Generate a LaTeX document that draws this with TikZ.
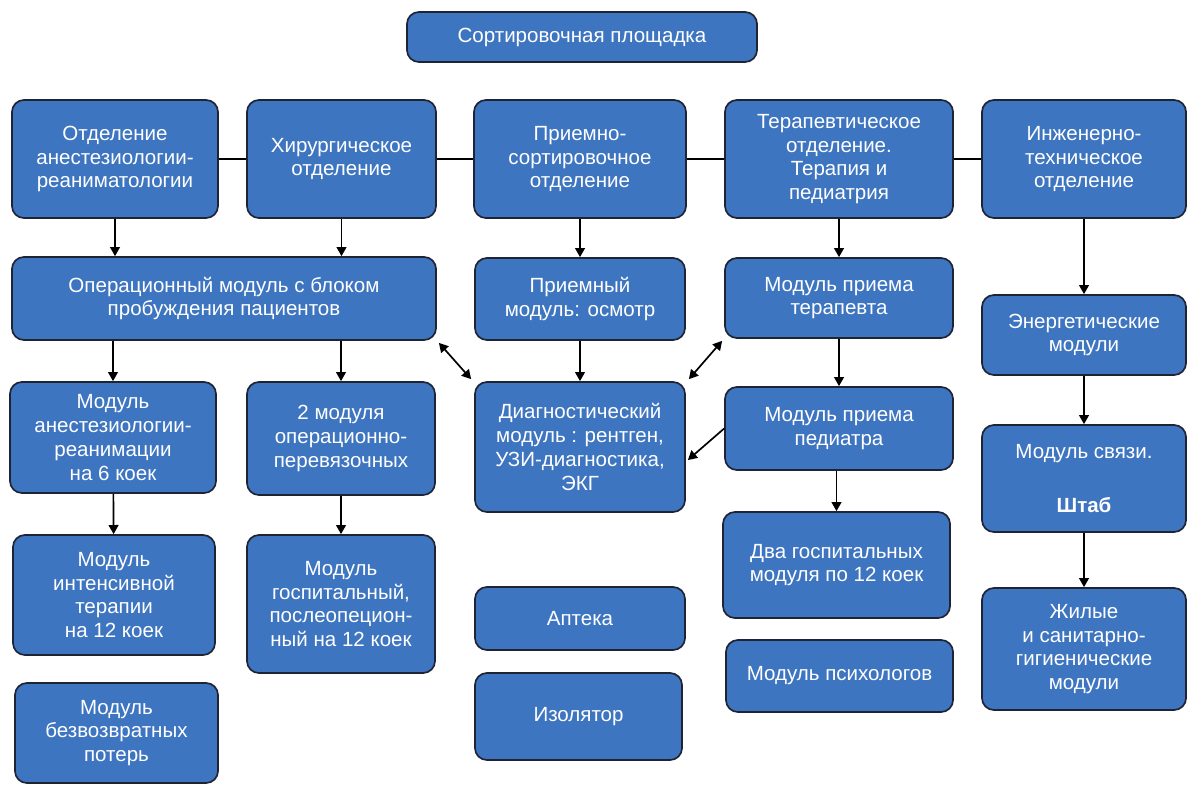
\documentclass[tikz,border=0pt]{standalone}
\usepackage{fontspec}
\setmainfont{Liberation Sans}
\usetikzlibrary{arrows.meta}
\definecolor{modblauw}{RGB}{62,117,193}
\definecolor{rand}{RGB}{30,36,52}
\begin{document}
\begin{tikzpicture}[
       x=0.025cm,y=-0.025cm,
       blok/.style={
         rectangle,
         rounded corners=0.3cm,
         draw=rand,
         line width=1.2pt,
         fill=modblauw,
         text=white,
         align=center,
         inner sep=0pt,
         font=\fontsize{14.6}{16.9}\selectfont
       },
       pijl/.style={line width=1.2pt,-{Triangle[length=6.5pt,width=7pt]}},
       dpijl/.style={line width=1.2pt,{Triangle[length=6.5pt,width=7pt]}-{Triangle[length=6.5pt,width=7pt]}}
     ]

       \useasboundingbox[fill=white] (0,0) rectangle (1194,785);

       \node (top) at (582,37) [blok,minimum width=8.75cm,minimum height=1.25cm] {Сортировочная площадка};

       \node (a1) at (115,159) [blok,minimum width=5.15cm,minimum height=2.95cm] {Отделение\\анестезиологии-\\реаниматологии};
       \node (a2) at (341.5,159) [blok,minimum width=4.725cm,minimum height=2.95cm] {Хирургическое\\отделение};
       \node (a3) at (580,159) [blok,minimum width=5.3cm,minimum height=2.95cm] {Приемно-\\сортировочное\\отделение};
       \node (a4) at (839,159) [blok,minimum width=5.7cm,minimum height=2.95cm] {Терапевтическое\\отделение.\\Терапия и\\педиатрия};
       \node (a5) at (1084,159) [blok,minimum width=5.1cm,minimum height=2.95cm] {Инженерно-\\техническое\\отделение};

       \node (b1) at (224,298.5) [blok,minimum width=10.6cm,minimum height=2.075cm] {Операционный модуль с блоком\\пробуждения пациентов};
       \node (b2) at (580,299) [blok,minimum width=5.25cm,minimum height=2.05cm] {Приемный\\модуль: осмотр};
       \node (b3) at (839,298) [blok,minimum width=5.7cm,minimum height=2cm] {Модуль приема\\терапевта};
       \node (e1) at (1084,335) [blok,minimum width=5.1cm,minimum height=2cm] {Энергетические\\модули};

       \node (c1) at (113,437.5) [blok,minimum width=5.15cm,minimum height=2.775cm] {Модуль\\анестезиологии-\\реанимации\\на 6 коек};
       \node (c2) at (341,438.5) [blok,minimum width=4.7cm,minimum height=2.825cm] {2 модуля\\операционно-\\перевязочных};
       \node (d) at (580,447) [blok,minimum width=5.25cm,minimum height=3.25cm] {Диагностический\\модуль : рентген,\\УЗИ-диагностика,\\ЭКГ};
       \node (b4) at (839,428.5) [blok,minimum width=5.7cm,minimum height=2.075cm] {Модуль приема\\педиатра};
       \node (e2) at (1084,478.5) [blok,minimum width=5.1cm,minimum height=2.675cm] {Модуль связи.\\[21pt]\textbf{Штаб}};

       \node (c3) at (114,595) [blok,minimum width=5.05cm,minimum height=3cm] {Модуль\\интенсивной\\терапии\\на 12 коек};
       \node (c4) at (341,604) [blok,minimum width=4.7cm,minimum height=3.45cm] {Модуль\\госпитальный,\\послеопецион-\\ный на 12 коек};
       \node (b5) at (836.5,565) [blok,minimum width=5.675cm,minimum height=2.65cm] {Два госпитальных\\модуля по 12 коек};
       \node (e3) at (1084,649) [blok,minimum width=5.1cm,minimum height=3.05cm] {Жилые\\и санитарно-\\гигиенические\\модули};

       \node (c5) at (116.5,733) [blok,minimum width=5.075cm,minimum height=2.5cm] {Модуль\\безвозвратных\\потерь};
       \node (apt) at (580,618.5) [blok,minimum width=5.25cm,minimum height=1.575cm] {Аптека};
       \node (iso) at (578.5,716.5) [blok,minimum width=5.175cm,minimum height=2.175cm] {Изолятор};
       \node (psi) at (839.5,676) [blok,minimum width=5.675cm,minimum height=1.8cm] {Модуль психологов};

       \draw[line width=1.2pt] (a1) -- (a2);
       \draw[line width=1.2pt] (a2) -- (a3);
       \draw[line width=1.2pt] (a3) -- (a4);
       \draw[line width=1.2pt] (a4) -- (a5);

       \draw[pijl] (a1.south) -- (a1.south |- b1.north);
       \draw[pijl] (a2.south) -- (a2.south |- b1.north);
       \draw[pijl] (a3) -- (b2);
       \draw[pijl] (a4) -- (b3);
       \draw[pijl] (a5) -- (e1);

       \draw[pijl] (b1.south -| c1.north) -- (c1.north);
       \draw[pijl] (b1.south -| c2.north) -- (c2.north);
       \draw[pijl] (c1) -- (c3);
       \draw[pijl] (c2) -- (c4);

       \draw[pijl] (b2) -- (d);
       \draw[pijl] (b3) -- (b4);
       \draw[pijl] (b4.south -| b5.north) -- (b5.north);
       \draw[pijl] (e1) -- (e2);
       \draw[pijl] (e2) -- (e3);

       \draw[dpijl] ([shift={(2,2)}]b1.south east) -- ([shift={(-3,-2)}]d.north west);
       \draw[dpijl] ([shift={(-2,2)}]b3.south west) -- ([shift={(3,-2)}]d.north east);
       \draw[pijl] (b4.west) -- ([shift={(2,13)}]d.east);

\end{tikzpicture}
\end{document}
